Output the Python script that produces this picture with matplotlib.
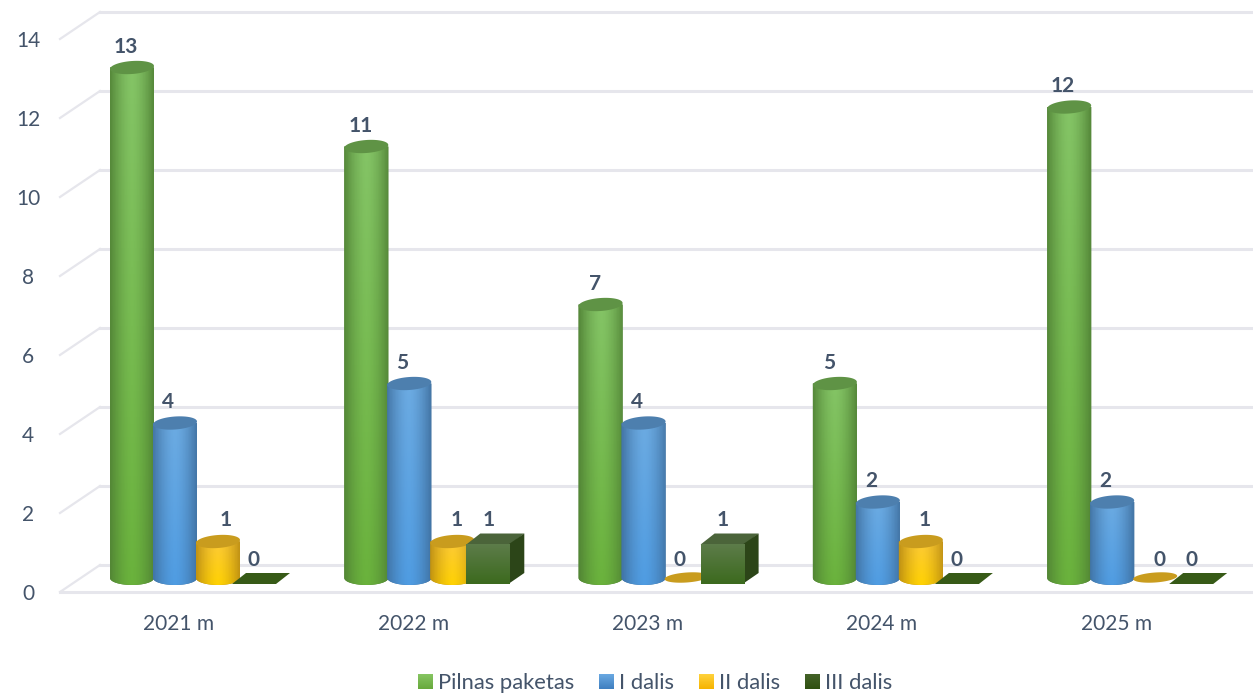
import matplotlib
matplotlib.use("Agg")
import matplotlib.pyplot as plt
from matplotlib.patches import Polygon, Patch
from matplotlib.colors import to_rgb
import numpy as np

plt.rcParams['font.family'] = ['Lato', 'DejaVu Sans']

years = ['2021 m', '2022 m', '2023 m', '2024 m', '2025 m']
series_names = ['Pilnas paketas', 'I dalis', 'II dalis', 'III dalis']
pilnas = [13, 11, 7, 5, 12]
dalis_1 = [4, 5, 4, 2, 2]
dalis_2 = [1, 1, 0, 1, 0]
dalis_3 = [0, 1, 1, 0, 0]
y_ticks = [0, 2, 4, 6, 8, 10, 12, 14]

TEXT_COLOR = '#44546a'
GRID_COLOR = '#e6e6ec'
WIDTH_PX, HEIGHT_PX = 1253, 693
GROUP_PX = 234.3    # px between categories
UNIT_PX = 39.5      # px per value unit
X0_PX = 179         # first category
Y0_PX = 592         # value 0 on the front edge of the floor

# colours: side edge, middle at top, middle at bottom, cap
GREEN = ('#4f8034', '#84c466', '#6ab23c', '#5f9345')
BLUE = ('#3f6f9e', '#6cabe2', '#4f9ce2', '#4d7fae')
YELLOW = ('#b88a12', '#fcc93a', '#ffd200', '#c99c1e')
# legend swatches: top, bottom
SWATCHES = [('#86c562', '#68a93c'), ('#6aa9e2', '#3f7fc0'), ('#ffd23c', '#f6b400'), ('#456329', '#2f5010')]


def dx(px):
    return px / GROUP_PX


def dy(px):
    return px / UNIT_PX


def gradient_fill(ax, box, top_color, bottom_color, clip=None, edge=None, zorder=3):
    # vertical fade, with optional darkening towards the left and right edges
    ys = np.linspace(0, 1, 80)[:, None, None]
    img = np.array(to_rgb(top_color)) * (1 - ys) + np.array(to_rgb(bottom_color)) * ys
    img = np.repeat(img, 80, axis=1)
    if edge is not None:
        xs = np.abs(np.linspace(-1, 1, 80))[None, :, None] ** 1.6
        img = img * (1 - xs) + np.array(to_rgb(edge)) * xs
    im = ax.imshow(img, extent=box, origin='upper', aspect='auto', interpolation='nearest', zorder=zorder)
    if clip is not None:
        im.set_clip_path(clip)


def tilted_ellipse(x, y, half_w, half_h):
    # the round tops lean a little, right side higher
    t = np.linspace(0, 2 * np.pi, 60)
    xs = half_w * np.cos(t)
    ys = half_h * np.sin(t) + dy(1.5) * np.cos(t)
    return np.column_stack([x + xs, y + ys])


def draw_cylinder(ax, x, value, colors, z):
    edge, mid_top, mid_bottom, cap = colors
    half_w = dx(22)
    half_h = dy(6.5)
    base = dy(14)
    top = base + value - dy(3)
    if value == 0:
        ax.add_patch(Polygon(tilted_ellipse(x, base - dy(-0.5), half_w, dy(5)), color=cap, lw=0, zorder=z))
        return
    t = np.linspace(np.pi, 2 * np.pi, 40)
    outline = np.column_stack([x + half_w * np.cos(t), base + dy(7) * np.sin(t)])
    outline = np.vstack([outline, [[x + half_w, top], [x - half_w, top]]])
    body = Polygon(outline, closed=True, color=edge, lw=0, zorder=z)
    ax.add_patch(body)
    box = (x - half_w - dx(2), x + half_w + dx(2), base - dy(9), top + dy(2))
    gradient_fill(ax, box, mid_top, mid_bottom, clip=body, edge=edge, zorder=z)
    ax.add_patch(Polygon(tilted_ellipse(x, top, half_w, half_h), color=cap, lw=0, zorder=z + 0.5))


def draw_cube(ax, x, value, z):
    half_w = dx(22)
    depth_x = dx(14)
    depth_y = dy(11)
    base = dy(8)
    top = base + value
    if value == 0:
        ax.add_patch(Polygon([(x - half_w, base), (x + half_w, base), (x + half_w + depth_x, base + depth_y),
                              (x - half_w + depth_x, base + depth_y)], color='#375a17', lw=0, zorder=z))
        return
    ax.add_patch(Polygon([(x - half_w, top), (x + half_w, top), (x + half_w + depth_x, top + depth_y),
                          (x - half_w + depth_x, top + depth_y)], color='#4b643a', lw=0, zorder=z))
    ax.add_patch(Polygon([(x + half_w - dx(2), base), (x + half_w + depth_x, base + depth_y),
                          (x + half_w + depth_x, top + depth_y), (x + half_w - dx(2), top)],
                         color='#2c4518', lw=0, zorder=z))
    # front face, a plain rectangle so no clip path is needed
    gradient_fill(ax, (x - half_w, x + half_w, base, top), '#5d7c4a', '#3c6a1e', zorder=z + 0.5)


fig = plt.figure(figsize=(WIDTH_PX / 100, HEIGHT_PX / 100), dpi=100)
ax = fig.add_axes([0, 0, 1, 1])
ax.axis('off')

x_left = -X0_PX / GROUP_PX
x_right = (WIDTH_PX - X0_PX) / GROUP_PX
y_bottom = (Y0_PX - HEIGHT_PX) / UNIT_PX
y_top = Y0_PX / UNIT_PX
ax.set_xlim(x_left, x_right)
ax.set_ylim(y_bottom, y_top)

# gridlines on the back wall and the slanted side wall
wall_x = x_left + dx(100)
for v in y_ticks:
    ax.plot([x_left + dx(60), wall_x], [v, v + dy(27)], color=GRID_COLOR, lw=1.6, zorder=1)
    ax.plot([wall_x, x_right], [v + dy(27), v + dy(27)], color=GRID_COLOR, lw=2.2, zorder=1)
    ax.text(x_left + dx(28), v - dy(2), str(v), color=TEXT_COLOR, fontsize=15, ha='center', va='center')
ax.plot([x_left + dx(60), x_right], [0, 0], color=GRID_COLOR, lw=2.2, zorder=1)

z = 3
for i, year in enumerate(years):
    draw_cylinder(ax, i + dx(-47), pilnas[i], GREEN, z)
    draw_cylinder(ax, i + dx(-4), dalis_1[i], BLUE, z + 1)
    draw_cylinder(ax, i + dx(39), dalis_2[i], YELLOW, z + 2)
    draw_cube(ax, i + dx(75), dalis_3[i], z + 3)
    z += 4
    ax.text(i, dy(-32), year, color=TEXT_COLOR, fontsize=15, ha='center', va='center')

    # value labels, the px shifts follow the original chart
    for value, offset in zip([pilnas[i], dalis_1[i], dalis_2[i], dalis_3[i]], [-53, -11, 43, 75]):
        if offset == 43 and value == 0 and i == 2:
            offset = 32
        if offset == 43 and i == 0:
            offset = 47
        ax.text(i + dx(offset), value + dy(32), str(value), color=TEXT_COLOR, fontsize=15, fontweight='bold',
                ha='center', va='center', zorder=80)

handles = [Patch(color=c[1], lw=0) for c in SWATCHES]
legend = ax.legend(handles, series_names, loc='center', bbox_to_anchor=(655 / WIDTH_PX, 1 - 683 / HEIGHT_PX), ncol=4,
                   frameon=False, fontsize=15.8, labelcolor=TEXT_COLOR, handlelength=0.64, handleheight=0.64,
                   handletextpad=0.27, columnspacing=1.14, borderpad=0)

# legend swatches carry the same fade as the bars
fig.canvas.draw()
for patch, colors in zip(legend.get_patches(), SWATCHES):
    bbox = patch.get_window_extent().transformed(ax.transData.inverted())
    gradient_fill(ax, (bbox.x0, bbox.x1, bbox.y0, bbox.y1), colors[0], colors[1], zorder=90)

ax.set_xlim(x_left, x_right)
ax.set_ylim(y_bottom, y_top)

plt.savefig('out.png', dpi=100)
